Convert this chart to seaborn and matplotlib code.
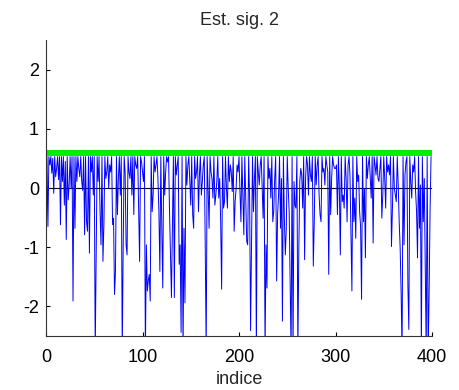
import numpy as np
import pandas as pd
import matplotlib
matplotlib.use("Agg")
import matplotlib.pyplot as plt
import seaborn as sns

title = "Est. sig. 2"
xlabel = "indice"
x_ticks = [0, 100, 200, 300, 400]
y_ticks = [-2, -1, 0, 1, 2]
threshold = 0.585

seg1 = [-1.88, 0.53, -0.65, 0.53, 0.39, 0.53, 0.25, 0.5, -0.09, 0.53, 0.19, 0.33, 0.53, 0.14, 0.53, -0.62, 0.53,
        0.11, 0.53, -0.29, 0.45, -0.87, 0.53, -0.2, 0.05, 0.53, -0.01, 0.53, -1.91, 0.53, -0.68, 0.53, 0.11, 0.53,
        0.33, 0.19, 0.53, 0.11, -0.04, 0.53, -0.79, 0.53, -0.57, -0.73, 0.53, -1.10, 0.53, 0.27, 0.53, -0.12, 0.53,
        -2.8, -1.10, 0.53, 0.11, 0.53, -0.40, -0.96, 0.53, -1.24, -0.62, 0.53, 0.16, 0.27, 0.53, -0.01, 0.39]
seg2 = [0.27, 0.53, -0.62, -0.51, -1.80, -1.41, 0.53, -0.45, 0.16, 0.53, -0.12, 0.53, -2.8, -0.96, 0.53, 0.27,
        -0.96, -1.13, 0.53, 0.27, 0.16, 0.53, -0.12, 0.53, -0.45, 0.53, 0.39, 0.33, 0.53, -0.34, -1.24, 0.53, 0.44,
        0.27, 0.11, 0.53, -2.8, -0.96, -1.74, -1.57, -1.46, -1.91, 0.53, -0.40, -0.12, 0.53, 0.27, 0.39, 0.53, 0.16,
        -0.40, -1.41, 0.53, -0.68, -1.69, 0.53, -0.12, 0.27, 0.53, 0.44, 0.53, -0.40, -1.13, -1.85, -0.68, 0.53]
seg3 = [-1.85, 0.53, 0.22, 0.39, 0.53, -1.29, -0.96, -2.44, 0.53, -2.8, -0.68, -1.94, 0.53, 0.05, 0.39, 0.53, 0.11,
        -0.29, 0.53, -0.45, -0.68, 0.53, 0.16, 0.27, 0.53, -0.40, 0.22, 0.53, -0.12, 0.11, 0.39, 0.53, -0.96, -2.8,
        0.53, -0.01, -0.68, 0.53, 0.27, 0.16, -0.17, 0.53, -0.29, -0.12, 0.11, 0.53, -0.17, 0.16, -0.57, -1.71, 0.53,
        -0.34, -0.23, 0.53, -0.01, -0.34, 0.53, 0.11, 0.39, 0.27, -0.06, 0.53, -0.73, -0.23, -0.01, 0.39]
seg4 = [0.27, 0.53, -0.06, -0.57, 0.53, -0.12, -0.79, 0.53, -0.17, -0.90, -0.96, 0.53, -0.17, -2.41, -1.01, 0.53,
        -0.40, 0.16, 0.53, -2.8, 0.53, 0.27, 0.05, 0.39, 0.53, -0.01, -0.51, 0.53, -2.8, -0.96, -1.69, 0.53, 0.16,
        0.33, -0.17, 0.53, -0.57, -0.40, 0.16, 0.53, -1.57, -0.45, -0.12, 0.53, -0.68, 0.16, -2.25, 0.53, -0.51,
        -1.13, -0.68, 0.53, -0.01, -0.40, -1.63, -2.8, 0.53, -2.8, 0.11, -0.29, -0.34, 0.53, -2.8, -1.01, 0.11, 0.33,
        0.22]
seg5 = [-0.34, 0.53, -1.21, 0.16, 0.53, 0.39, -0.12, 0.53, 0.22, 0.11, 0.53, -1.32, -0.57, 0.53, 0.05, 0.39, 0.53,
        -0.12, -0.45, -0.57, 0.53, 0.27, 0.33, 0.05, 0.53, 0.39, 0.27, -1.46, 0.53, -0.45, 0.16, 0.53, 0.39, 0.33,
        0.33, 0.39, -0.45, 0.53, -0.01, -1.13, 0.53, -0.23, -0.12, -0.34, 0.53, 0.16, -0.57, 0.39, 0.53, 0.22, -0.76,
        -1.74, 0.53, -0.57, -0.17, -0.85, 0.53, 0.11, 0.22, -0.40, -0.65, -1.88, 0.53, -0.57, -0.01, -1.18]
seg6 = [0.53, 0.16, 0.39, 0.53, 0.16, -0.17, 0.53, -0.93, 0.53, 0.39, 0.22, 0.53, 0.16, 0.11, 0.33, 0.53, -0.51,
        -0.12, 0.53, 0.16, -0.34, 0.53, 0.27, 0.39, 0.22, 0.53, -0.99, -0.34, 0.53, -0.01, -0.12, -0.23, 0.53, 0.05,
        -0.57, -1.01, -1.77, -2.8, 0.53, -0.96, 0.22, 0.44, 0.53, -1.63, -2.39, 0.53, 0.11, -0.17, 0.39, 0.27, 0.53,
        -0.06, -0.40, -1.18, 0.53, -0.68, 0.05, -2.8, 0.53, -0.57, 0.16, -1.35, -2.8, 0.53, -2.8, -1.80, -0.40, 0.53]

signal = seg1 + seg2 + seg3 + seg4 + seg5 + seg6
index = list(range(len(signal)))

df = pd.DataFrame({"indice": index, "value": signal})
df_thr = pd.DataFrame({"indice": [0, 400], "value": [threshold, threshold]})
df_zero = pd.DataFrame({"indice": [0, 400], "value": [0, 0]})

sns.set_style("white")
plt.rcParams['font.family'] = ['Liberation Sans', 'DejaVu Sans']
plt.rcParams['axes.unicode_minus'] = False

fig = plt.figure(figsize=(4.59, 3.90), dpi=100)
ax = fig.add_axes([46/459, 1 - 336/390, (432 - 46)/459, (336 - 40)/390])

sns.lineplot(data=df_zero, x="indice", y="value", ax=ax, color="black", linewidth=0.8)
sns.lineplot(data=df, x="indice", y="value", ax=ax, color="#0000ff", linewidth=0.7)
sns.lineplot(data=df_thr, x="indice", y="value", ax=ax, color="#00ee00", linewidth=4.3,
             solid_capstyle="butt")

ax.set_xlim(0, 400)
ax.set_ylim(-2.5, 2.5)
ax.set_xticks(x_ticks)
ax.set_yticks(y_ticks)
ax.set_xticklabels([str(t) for t in x_ticks])
ax.set_yticklabels([str(t) for t in y_ticks])
ax.tick_params(direction="in", length=3, width=0.8, labelsize=13, colors="black",
               bottom=True, left=True)
ax.tick_params(axis="x", pad=9)
ax.tick_params(axis="y", pad=5)
for side in ["top", "right"]:
    ax.spines[side].set_visible(False)
for side in ["left", "bottom"]:
    ax.spines[side].set_color("#333333")
    ax.spines[side].set_linewidth(0.8)
ax.set_xlabel(xlabel, fontsize=13, labelpad=4)
ax.set_ylabel("")
ax.set_title(title, fontsize=13, pad=11)

fig.savefig("out.png", dpi=100)
